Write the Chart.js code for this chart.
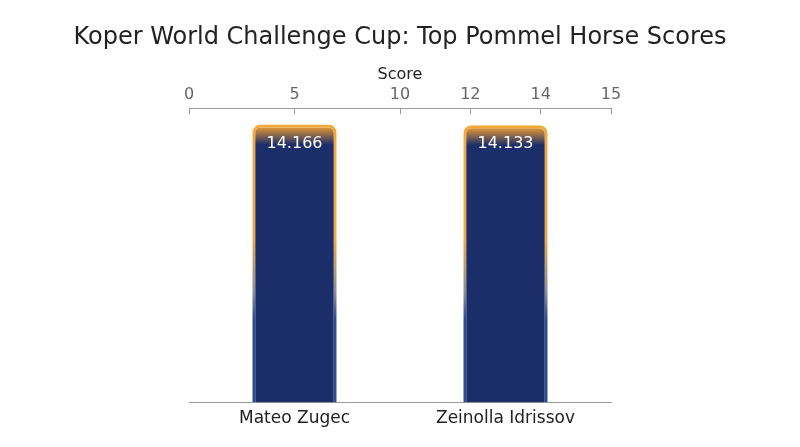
<!DOCTYPE html>
<html>
<head>
<meta charset="utf-8">
<script src="https://cdn.jsdelivr.net/npm/chart.js@4.4.1/dist/chart.umd.min.js"></script>
<style>
  html, body { margin: 0; padding: 0; background: #fff; }
  #wrap { width: 800px; height: 447px; }
</style>
</head>
<body>
<div id="wrap"><canvas id="myChart"></canvas></div>
<script>
const athletes = ["Mateo Zugec", "Zeinolla Idrissov"];
const scores = [14.166, 14.133];
// top axis labels, blank slots keep the uneven spacing of the original
const scoreAxisLabels = ["0", "", "", "5", "", "", "10", "", "12", "", "14", "", "15"];

const ORANGE = "#f5a93b";
const NAVY = "#1b2e69";
const FONT = "'DejaVu Sans', sans-serif";
const SIDE = 189; // empty space left and right of the plot

function barTop(ctx) {
  const chart = ctx.chart;
  if (!chart.chartArea || !chart.scales.y) return null;
  return chart.scales.y.getPixelForValue(ctx.raw);
}

function fillGradient(ctx) {
  const top = barTop(ctx);
  if (top === null) return NAVY;
  const g = ctx.chart.ctx.createLinearGradient(0, top, 0, top + 20);
  g.addColorStop(0, ORANGE);
  g.addColorStop(0.25, "#c98a3c");
  g.addColorStop(1, NAVY);
  return g;
}

function borderGradient(ctx) {
  const top = barTop(ctx);
  if (top === null) return ORANGE;
  const bottom = ctx.chart.chartArea.bottom;
  const g = ctx.chart.ctx.createLinearGradient(0, top, 0, bottom);
  g.addColorStop(0, ORANGE);
  g.addColorStop(0.4, ORANGE);
  g.addColorStop(0.6, "#8d8f98");
  g.addColorStop(0.7, "#2f4a92");
  g.addColorStop(1, "#2f4a92");
  return g;
}

// value labels inside the top of each bar
const valueLabels = {
  id: "valueLabels",
  afterDatasetsDraw(chart) {
    const c = chart.ctx;
    const meta = chart.getDatasetMeta(0);
    c.save();
    c.fillStyle = "#ffffff";
    c.font = "16px " + FONT;
    c.textAlign = "center";
    c.textBaseline = "middle";
    meta.data.forEach((bar, i) => {
      c.fillText(scores[i].toFixed(3), bar.x, bar.y + 19);
    });
    c.restore();
  },
};

// invisible side axes just to hold the plot in the middle
const blankSide = (pos) => ({
  position: pos,
  display: true,
  min: 0,
  max: 15,
  grid: { display: false, drawTicks: false },
  border: { display: false },
  ticks: { display: false },
  afterFit: (s) => { s.width = SIDE; },
});

var ctx = document.getElementById("myChart").getContext("2d");
var myChart = new Chart(ctx, {
  type: "bar",
  data: {
    labels: athletes,
    datasets: [
      {
        label: "Score",
        data: scores,
        backgroundColor: fillGradient,
        borderColor: borderGradient,
        borderWidth: 3,
        borderRadius: 8,
        borderSkipped: "bottom",
        categoryPercentage: 0.8,
        barPercentage: 0.5,
      },
    ],
  },
  options: {
    responsive: true,
    maintainAspectRatio: false,
    animation: false,
    layout: { padding: { left: 0, right: 0, top: 0, bottom: 12 } },
    plugins: {
      legend: { display: false },
      tooltip: { enabled: false },
      title: {
        display: true,
        text: "Koper World Challenge Cup: Top Pommel Horse Scores",
        color: "#222222",
        font: { family: FONT, size: 24, weight: "normal" },
        padding: { top: 23, bottom: 5 },
      },
    },
    scales: {
      x: {
        type: "category",
        position: "bottom",
        grid: { display: false, drawTicks: false },
        border: { display: true, color: "#999999", width: 1 },
        ticks: { color: "#222222", font: { family: FONT, size: 17 }, padding: 6 },
      },
      x2: {
        type: "category",
        position: "top",
        labels: scoreAxisLabels,
        offset: false,
        grid: {
          offset: false,
          drawOnChartArea: false,
          tickLength: -6,
          tickColor: (c) => (c.tick && c.tick.label ? "#999999" : "rgba(0,0,0,0)"),
        },
        border: { display: true, color: "#999999", width: 1 },
        title: {
          display: true,
          text: "Score",
          color: "#222222",
          font: { family: FONT, size: 16 },
          padding: { top: 8, bottom: -9 },
        },
        ticks: {
          autoSkip: false,
          maxRotation: 0,
          color: "#666666",
          font: { family: FONT, size: 16 },
          padding: 10,
        },
      },
      y: blankSide("left"),
      yRight: blankSide("right"),
    },
  },
  plugins: [valueLabels],
});
</script>
</body>
</html>
